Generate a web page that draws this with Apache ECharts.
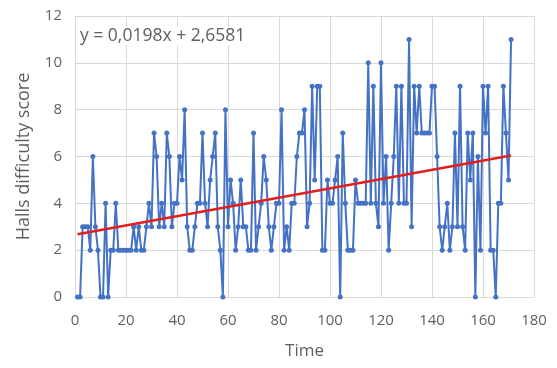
<!DOCTYPE html>
<html>
<head>
<meta charset="utf-8">
<script src="https://cdn.jsdelivr.net/npm/echarts@6/dist/echarts.min.js"></script>
<style>html,body{margin:0;padding:0;background:#fff}#c{width:557px;height:368px}</style>
</head>
<body>
<div id="c"></div>
<script>
// Halls difficulty score over time
const scores = [
  0,0,3,3,3,2,6,3,2,0,
  0,4,0,2,2,4,2,2,2,2,
  2,2,3,2,3,2,2,3,4,3,
  7,6,3,4,3,7,6,3,4,4,
  6,5,8,3,2,2,3,4,4,7,
  4,3,5,6,7,3,2,0,8,3,
  5,4,2,3,5,3,3,2,2,7,
  2,3,4,6,5,3,2,3,4,4,
  8,2,3,2,4,4,6,7,7,8,
  3,4,9,5,9,9,2,2,5,4,
  4,5,6,0,7,4,2,2,2,5,
  4,4,4,4,10,4,9,4,3,10,
  4,6,2,4,6,9,4,9,4,4,
  11,3,9,7,9,7,7,7,7,9,
  9,6,3,2,3,4,2,3,7,3,
  9,3,2,7,5,7,0,6,2,9,
  7,9,2,2,0,4,4,9,7,5,11
];
const times = scores.map((_, i) => i + 1);
const trendSlope = 0.0198;
const trendIntercept = 2.6581;
const trendLabel = 'y = 0,0198x + 2,6581';
const xTicks = [0, 20, 40, 60, 80, 100, 120, 140, 160, 180];
const yTicks = [0, 2, 4, 6, 8, 10, 12];

const seriesData = times.map((t, i) => [t, scores[i]]);
const tMin = times[0], tMax = times[times.length - 1];
const trendData = [[tMin, trendIntercept + trendSlope * tMin], [tMax, trendIntercept + trendSlope * tMax]];

const font = '"Open Sans", sans-serif';
const grey = '#5f5f5f';
const chart = echarts.init(document.getElementById('c'), null, {renderer: 'canvas'});
chart.setOption({
  animation: false,
  backgroundColor: '#fff',
  grid: {left: 75, right: 23, top: 16, bottom: 71},
  xAxis: {
    type: 'value', min: xTicks[0], max: xTicks[xTicks.length - 1], interval: 20,
    name: 'Time', nameLocation: 'middle', nameGap: 46,
    nameTextStyle: {color: grey, fontSize: 17, fontFamily: font},
    axisLine: {show: true, lineStyle: {color: '#d9d9d9'}},
    axisTick: {show: false},
    axisLabel: {color: grey, fontSize: 15, fontFamily: font, margin: 16},
    splitLine: {show: true, lineStyle: {color: '#d9d9d9', width: 1}}
  },
  yAxis: {
    type: 'value', min: yTicks[0], max: yTicks[yTicks.length - 1], interval: 2,
    name: 'Halls difficulty score', nameLocation: 'middle', nameGap: 42, nameRotate: 90,
    nameTextStyle: {color: grey, fontSize: 18, fontFamily: font},
    axisLine: {show: false},
    axisTick: {show: false},
    axisLabel: {color: grey, fontSize: 15, fontFamily: font, margin: 13},
    splitLine: {show: true, lineStyle: {color: '#d9d9d9', width: 1}}
  },
  series: [
    {
      type: 'line', data: seriesData, symbol: 'circle', symbolSize: 5,
      lineStyle: {color: '#4472c4', width: 2}, itemStyle: {color: '#4472c4'},
      z: 2
    },
    {
      type: 'line', data: trendData, symbol: 'none',
      lineStyle: {color: '#e0201f', width: 2.5}, z: 3
    }
  ],
  graphic: [{
    type: 'text', left: 80, top: 27, z: 10,
    style: {text: trendLabel, fill: grey, font: '17.5px ' + font, backgroundColor: '#fff'}
  }]
});
</script>
</body>
</html>
